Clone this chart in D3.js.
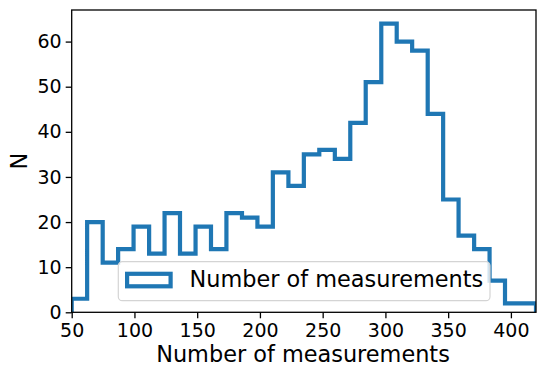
<!DOCTYPE html>
<html>
<head>
<meta charset="utf-8">
<script src="https://cdn.jsdelivr.net/npm/d3@7"></script>
<style>
  body { margin: 0; background: #fff; }
  text { font-family: "DejaVu Sans", sans-serif; fill: #000; }
</style>
</head>
<body>
<div id="container"></div>
<script>
const w = 547
const h = 378
const margin = { left: 71.7, right: 11, top: 10, bottom: 65.7 }

// histogram bins (edges) and counts
const binEdges = [50, 62.3, 74.7, 87, 99.3, 111.7, 124, 136.3, 148.7, 161, 173.3,
                  185.7, 198, 210.3, 222.7, 235, 247.3, 259.7, 272, 284.3, 296.7,
                  309, 321.3, 333.7, 346, 358.3, 370.7, 383, 395.3, 407.7, 420]
const counts = [3, 20, 11, 14, 19, 13, 22, 13, 19, 14, 22, 21, 19, 31, 28,
                35, 36, 34, 42, 51, 64, 60, 58, 44, 25, 17, 14, 7, 2, 2]
const xTicks = [50, 100, 150, 200, 250, 300, 350, 400]
const yTicks = [0, 10, 20, 30, 40, 50, 60]

const svg = d3.select('#container')
              .append('svg')
              .attr('width', w)
              .attr('height', h)

const xScale = d3.scaleLinear()
                 .domain([50, 420])
                 .range([margin.left, w - margin.right])
const yScale = d3.scaleLinear()
                 .domain([0, 67])
                 .range([h - margin.bottom, margin.top])

svg.append('clipPath')
   .attr('id', 'plot-clip')
   .append('rect')
   .attr('x', margin.left)
   .attr('y', margin.top)
   .attr('width', w - margin.left - margin.right)
   .attr('height', h - margin.top - margin.bottom)

// step outline
const pts = [[binEdges[0], 0]]
counts.forEach((c, i) => {
  pts.push([binEdges[i], c])
  pts.push([binEdges[i + 1], c])
})
pts.push([binEdges[binEdges.length - 1], 0])

const line = d3.line()
               .x(d => xScale(d[0]))
               .y(d => yScale(d[1]))

svg.append('path')
   .attr('d', line(pts))
   .attr('fill', 'none')
   .attr('stroke', '#1f77b4')
   .attr('stroke-width', 4.2)
   .attr('stroke-linejoin', 'miter')
   .attr('clip-path', 'url(#plot-clip)')

// Axis
const xAxis = d3.axisBottom(xScale).tickValues(xTicks).tickSize(6).tickPadding(5)
const yAxis = d3.axisLeft(yScale).tickValues(yTicks).tickSize(6).tickPadding(4)

const gx = svg.append('g')
   .attr('transform', 'translate(0, ' + (h - margin.bottom) + ')')
   .call(xAxis)
const gy = svg.append('g')
   .attr('transform', 'translate(' + margin.left + ', 0)')
   .call(yAxis)

;[gx, gy].forEach(g => {
  g.select('.domain').remove()
  g.selectAll('line').attr('stroke', '#000').attr('stroke-width', 1.3)
  g.selectAll('text').style('font-size', '19px').attr('fill', '#000')
})
gx.selectAll('text').attr('dy', '0.72em')

// frame
svg.append('rect')
   .attr('x', margin.left)
   .attr('y', margin.top)
   .attr('width', w - margin.left - margin.right)
   .attr('height', h - margin.top - margin.bottom)
   .attr('fill', 'none')
   .attr('stroke', '#000')
   .attr('stroke-width', 1.3)

// labels
svg.append('text')
   .attr('x', 303)
   .attr('y', 361.7)
   .attr('text-anchor', 'middle')
   .style('font-size', '22.4px')
   .text('Number of measurements')

svg.append('text')
   .attr('transform', 'translate(26.7, 161) rotate(-90)')
   .attr('text-anchor', 'middle')
   .style('font-size', '22.4px')
   .text('N')

// legend
const legend = svg.append('g')
legend.append('rect')
      .attr('x', 118.3)
      .attr('y', 261.7)
      .attr('width', 371.7)
      .attr('height', 39)
      .attr('rx', 4)
      .attr('fill', 'rgba(255,255,255,0.8)')
      .attr('stroke', '#d4d4d4')
      .attr('stroke-width', 1.2)
legend.append('rect')
      .attr('x', 127.1)
      .attr('y', 273.8)
      .attr('width', 43.5)
      .attr('height', 12.5)
      .attr('fill', 'none')
      .attr('stroke', '#1f77b4')
      .attr('stroke-width', 4.2)
legend.append('text')
      .attr('x', 189.5)
      .attr('y', 287.3)
      .style('font-size', '22.4px')
      .text('Number of measurements')
</script>
</body>
</html>
